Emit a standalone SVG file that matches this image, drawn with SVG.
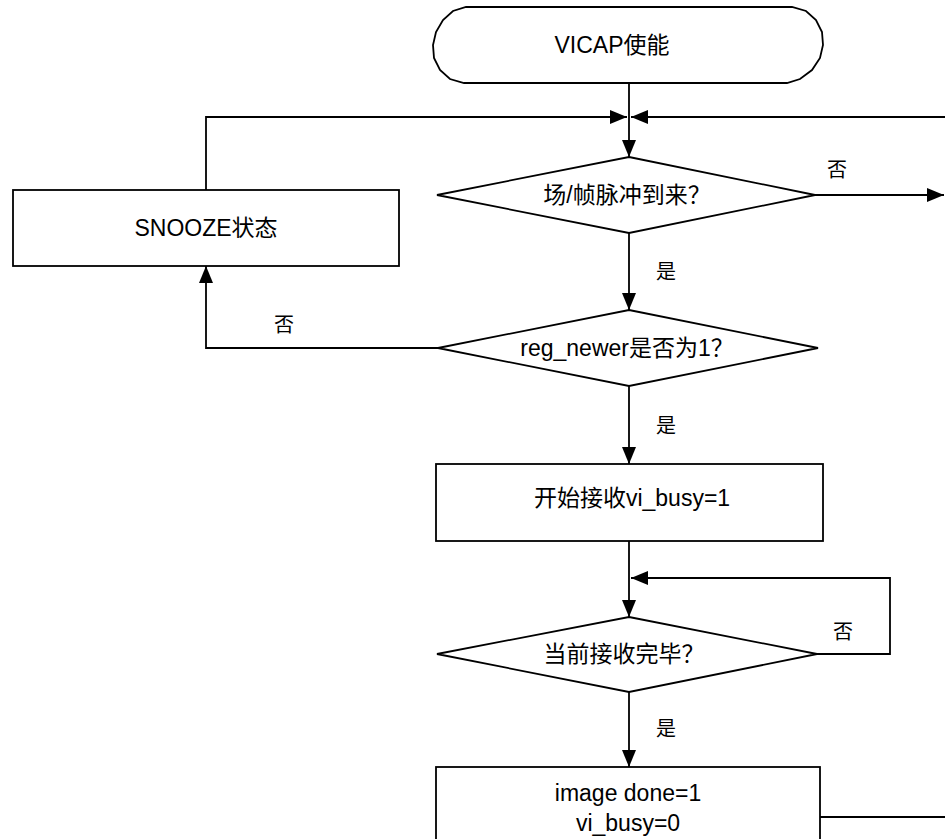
<svg xmlns="http://www.w3.org/2000/svg" width="945" height="839" viewBox="0 0 945 839">
<defs>
<style>
.shape{fill:#fff;stroke:#000;stroke-width:1.8}
.line{fill:none;stroke:#000;stroke-width:1.8}
.t{font-family:"Liberation Sans","Noto Sans CJK SC",sans-serif;font-size:23px;fill:#000;text-anchor:middle}
.lb{font-family:"Noto Sans CJK SC",sans-serif;font-size:20px;fill:#000;text-anchor:middle}
</style>
<marker id="ah" markerUnits="userSpaceOnUse" markerWidth="18" markerHeight="14" refX="17" refY="7" orient="auto">
<path d="M0,0 L17,7 L0,14 z" fill="#000"/>
</marker>
</defs>
<rect width="945" height="839" fill="#fff"/>
<g id="connectors">
<path class="line" d="M629,83 V157" marker-end="url(#ah)"/>
<path class="line" d="M206,190 V117 H627" marker-end="url(#ah)"/>
<path class="line" d="M945,117 H631" marker-end="url(#ah)"/>
<path class="line" d="M815,195 H944" marker-end="url(#ah)"/>
<path class="line" d="M629,233 V310" marker-end="url(#ah)"/>
<path class="line" d="M438,348 H206 V266" marker-end="url(#ah)"/>
<path class="line" d="M629,386 V464" marker-end="url(#ah)"/>
<path class="line" d="M629,541 V617" marker-end="url(#ah)"/>
<path class="line" d="M817,654 H890 V578 H631" marker-end="url(#ah)"/>
<path class="line" d="M629,692 V767" marker-end="url(#ah)"/>
<path class="line" d="M820,817 H945"/>
<text class="lb" x="837" y="177">否</text>
<text class="lb" x="666" y="279">是</text>
<text class="lb" x="284" y="332">否</text>
<text class="lb" x="666" y="433">是</text>
<text class="lb" x="843" y="639">否</text>
<text class="lb" x="666" y="736">是</text>
</g>
<g id="start">
<polygon class="shape" points="466,7 792,7 806,11 816,20 822,32 823,45 820,58 812,70 800,79 787,83 464,83 450,79 440,70 434,58 433,45 436,32 443,20 453,11"/>
<text class="t" x="612" y="53">VICAP使能</text>
</g>
<g id="d-frame">
<polygon class="shape" points="629,157 815,195 629,233 437,195"/>
<text class="t" x="627" y="203">场/帧脉冲到来？</text>
</g>
<g id="snooze">
<rect class="shape" x="13" y="190" width="386" height="76"/>
<text class="t" x="206" y="236">SNOOZE状态</text>
</g>
<g id="d-reg">
<polygon class="shape" points="629,310 818,348 629,386 438,348"/>
<text class="t" x="627" y="356">reg_newer是否为1？</text>
</g>
<g id="start-rx">
<rect class="shape" x="436" y="464" width="387" height="77"/>
<text class="t" x="632" y="506">开始接收vi_busy=1</text>
</g>
<g id="d-done">
<polygon class="shape" points="629,617 817,654 629,692 437,654"/>
<text class="t" x="624" y="662">当前接收完毕？</text>
</g>
<g id="done">
<rect class="shape" x="436" y="767" width="384" height="90"/>
<text class="t" x="628" y="801">image done=1</text>
<text class="t" x="628" y="831">vi_busy=0</text>
</g>
</svg>
